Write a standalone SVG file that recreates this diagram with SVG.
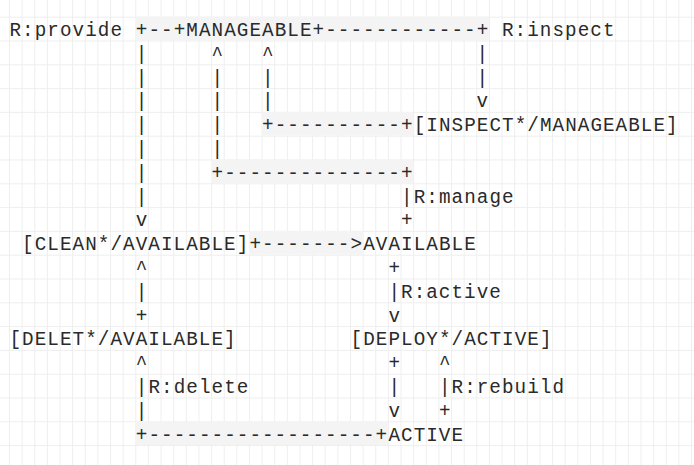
<svg xmlns="http://www.w3.org/2000/svg" width="694" height="465" viewBox="0 0 694 465">
<defs>
<pattern id="grid" x="9" y="16.7" width="12.63" height="23.8" patternUnits="userSpaceOnUse">
<path d="M0 0V23.8M0 0H12.63" fill="none" stroke="#eeeeee" stroke-width="2"/>
</pattern>
</defs>
<style>
text{font-family:"Liberation Mono","DejaVu Sans Mono",monospace;font-size:19.3px;letter-spacing:1.05px;fill:#2a2a2a;white-space:pre}
.sh{fill:#f4f4f4}
</style>
<rect width="694" height="465" fill="#ffffff"/>
<rect x="0" y="0" width="694" height="465" fill="url(#grid)"/>
<g id="shading">
<rect class="sh" x="135.3" y="16.7" width="353.6" height="23.8"/>
<rect class="sh" x="261.6" y="111.9" width="151.6" height="23.8"/>
<rect class="sh" x="211.1" y="159.5" width="202.1" height="23.8"/>
<rect class="sh" x="249" y="230.9" width="113.7" height="23.8"/>
<rect class="sh" x="135.3" y="421.3" width="252.6" height="23.8"/>
</g>
<g id="connectors">
<text x="9.5" y="36">R:provide</text>
<text x="135.8" y="36">+--+</text>
<text x="312.6" y="36">+------------+</text>
<text x="502" y="36">R:inspect</text>
<text x="135.8" y="59.8">|</text><text x="211.6" y="59.8">^</text><text x="262.1" y="59.8">^</text><text x="476.4" y="59.8">|</text>
<text x="135.8" y="83.6">|</text><text x="211.6" y="83.6">|</text><text x="262.1" y="83.6">|</text><text x="476.4" y="83.6">|</text>
<text x="135.8" y="107.4">|</text><text x="211.6" y="107.4">|</text><text x="262.1" y="107.4">|</text><text x="476.4" y="107.4">v</text>
<text x="135.8" y="131.2">|</text><text x="211.6" y="131.2">|</text><text x="262.1" y="131.2">+----------+</text>
<text x="135.8" y="155">|</text><text x="211.6" y="155">|</text>
<text x="135.8" y="178.8">|</text><text x="211.6" y="178.8">+--------------+</text>
<text x="135.8" y="202.6">|</text><text x="401.1" y="202.6">|R:manage</text>
<text x="135.8" y="226.4">v</text><text x="401.1" y="226.4">+</text>
<text x="249.5" y="250.2">+-------&gt;</text>
<text x="135.8" y="274">^</text><text x="388.4" y="274">+</text>
<text x="135.8" y="297.8">|</text><text x="388.4" y="297.8">|R:active</text>
<text x="135.8" y="321.6">+</text><text x="388.4" y="321.6">v</text>
<text x="135.8" y="369.2">^</text><text x="388.4" y="369.2">+</text><text x="438.9" y="369.2">^</text>
<text x="135.8" y="393">|R:delete</text><text x="388.4" y="393">|</text><text x="438.9" y="393">|R:rebuild</text>
<text x="135.8" y="416.8">|</text><text x="388.4" y="416.8">v</text><text x="438.9" y="416.8">+</text>
<text x="135.8" y="440.6">+------------------+</text>
</g>
<g id="node-manageable"><text x="186.3" y="36">MANAGEABLE</text></g>
<g id="node-inspect"><text x="413.7" y="131.2">[INSPECT*/MANAGEABLE]</text></g>
<g id="node-clean"><text x="22.1" y="250.2">[CLEAN*/AVAILABLE]</text></g>
<g id="node-available"><text x="363.2" y="250.2">AVAILABLE</text></g>
<g id="node-delet"><text x="9.5" y="345.4">[DELET*/AVAILABLE]</text></g>
<g id="node-deploy"><text x="350.6" y="345.4">[DEPLOY*/ACTIVE]</text></g>
<g id="node-active"><text x="388.4" y="440.6">ACTIVE</text></g>
</svg>
